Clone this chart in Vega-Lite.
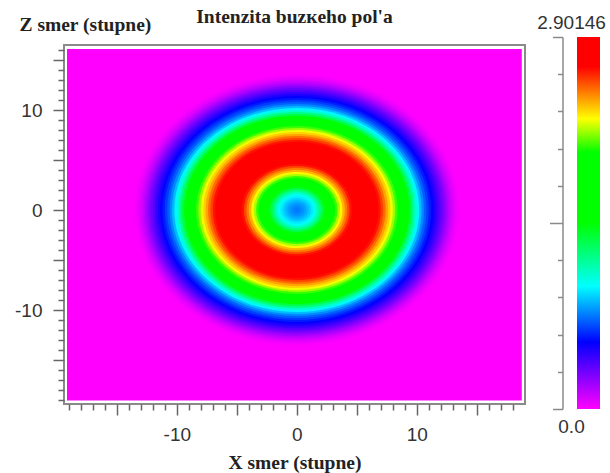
{
  "$schema": "https://vega.github.io/schema/vega-lite/v6.json",
  "width": 461,
  "height": 359,
  "autosize": {"type": "none"},
  "padding": {"left": 64, "top": 45, "right": 85, "bottom": 69},
  "background": "white",
  "title": {"text": "Intenzita buzкeho pol'a", "frame": "group", "anchor": "middle", "offset": -29, "baseline": "alphabetic", "font": "Liberation Serif", "fontSize": 19.5, "fontWeight": "bold", "color": "#222222"},
  "config": {"view": {"stroke": "#8a8a8a", "strokeWidth": 2}, "axis": {"grid": false}},
  "layer": [
    {
      "data": {"values": [{"x0": -19.15, "x1": 18.75, "z0": -19.05, "z1": 16.1, "v": 0}]},
      "mark": {"type": "rect"},
      "encoding": {
        "x": {"field": "x0", "type": "quantitative", "scale": {"domain": [-19.4, 19.0167], "nice": false, "zero": false},
          "axis": {"orient": "bottom", "values": [-19,-18,-17,-16,-15,-14,-13,-12,-11,-10,-9,-8,-7,-6,-5,-4,-3,-2,-1,0,1,2,3,4,5,6,7,8,9,10,11,12,13,14,15,16,17,18],
            "domain": false, "grid": false, "tickColor": "#666666", "tickWidth": 1.5,
            "tickSize": {"condition": {"test": "datum.value % 5 === 0", "value": 11}, "value": 6},
            "labelExpr": "datum.value % 10 === 0 ? toString(datum.value) : ''",
            "labelFont": "Liberation Sans", "labelFontSize": 19, "labelColor": "#333333", "labelPadding": 10,
            "labelOverlap": false, "labelFlush": false,
            "title": "X smer (stupne)", "titleFont": "Liberation Serif", "titleFontSize": 19.5, "titleFontWeight": "bold", "titleColor": "#222222",
            "titleY": 64, "titleBaseline": "alphabetic"}},
        "x2": {"field": "x1"},
        "y": {"field": "z0", "type": "quantitative", "scale": {"domain": [-19.4, 16.5], "nice": false, "zero": false},
          "axis": {"orient": "left", "values": [-19,-18,-17,-16,-15,-14,-13,-12,-11,-10,-9,-8,-7,-6,-5,-4,-3,-2,-1,0,1,2,3,4,5,6,7,8,9,10,11,12,13,14,15,16],
            "domain": false, "grid": false, "tickColor": "#666666", "tickWidth": 1.5,
            "tickSize": {"condition": {"test": "datum.value % 5 === 0", "value": 11}, "value": 6},
            "labelExpr": "datum.value % 10 === 0 ? toString(datum.value) : ''",
            "labelFont": "Liberation Sans", "labelFontSize": 19, "labelColor": "#333333", "labelPadding": 11,
            "labelOverlap": false, "labelFlush": false,
            "title": "Z smer (stupne)", "titleFont": "Liberation Serif", "titleFontSize": 19.5, "titleFontWeight": "bold", "titleColor": "#222222",
            "titleAngle": 0, "titleAlign": "left", "titleBaseline": "alphabetic", "titleX": -45, "titleY": -14.5}},
        "y2": {"field": "z1"},
        "color": {"field": "v", "type": "quantitative", "legend": null,
          "scale": {"type": "linear", "domain": [0, 0.52226, 0.95748, 1.45073, 2.00201, 2.26314, 2.66934, 2.90146], "range": ["#ff00ff", "#0000ff", "#00ffff", "#00ff00", "#00ff00", "#ffff00", "#ff0000", "#ff0000"], "interpolate": "rgb", "clamp": true}}
      }
    },
    {
      "data": {"values": [
        {"r": 14.0, "v": 0}, {"r": 13.8, "v": 0}, {"r": 13.6, "v": 0.009}, {"r": 13.4, "v": 0.026},
        {"r": 13.2, "v": 0.055}, {"r": 13.0, "v": 0.093}, {"r": 12.8, "v": 0.139}, {"r": 12.6, "v": 0.191},
        {"r": 12.4, "v": 0.247}, {"r": 12.2, "v": 0.302}, {"r": 12.0, "v": 0.357}, {"r": 11.8, "v": 0.412},
        {"r": 11.6, "v": 0.464}, {"r": 11.4, "v": 0.516}, {"r": 11.2, "v": 0.566}, {"r": 11.0, "v": 0.624},
        {"r": 10.8, "v": 0.682}, {"r": 10.6, "v": 0.754}, {"r": 10.4, "v": 0.841}, {"r": 10.2, "v": 0.943},
        {"r": 10.0, "v": 1.059}, {"r": 9.8, "v": 1.190}, {"r": 9.6, "v": 1.320}, {"r": 9.4, "v": 1.451},
        {"r": 9.2, "v": 1.581}, {"r": 9.0, "v": 1.712}, {"r": 8.8, "v": 1.842}, {"r": 8.6, "v": 1.958},
        {"r": 8.4, "v": 2.060}, {"r": 8.2, "v": 2.162}, {"r": 8.0, "v": 2.249}, {"r": 7.8, "v": 2.336},
        {"r": 7.6, "v": 2.408}, {"r": 7.4, "v": 2.495}, {"r": 7.2, "v": 2.568}, {"r": 7.0, "v": 2.640},
        {"r": 6.8, "v": 2.698}, {"r": 6.6, "v": 2.771}, {"r": 6.4, "v": 2.829}, {"r": 6.2, "v": 2.872},
        {"r": 6.0, "v": 2.896}, {"r": 5.8, "v": 2.901}, {"r": 5.6, "v": 2.887}, {"r": 5.4, "v": 2.858},
        {"r": 5.2, "v": 2.814}, {"r": 5.0, "v": 2.771}, {"r": 4.8, "v": 2.713}, {"r": 4.6, "v": 2.640},
        {"r": 4.4, "v": 2.553}, {"r": 4.2, "v": 2.466}, {"r": 4.0, "v": 2.379}, {"r": 3.8, "v": 2.278},
        {"r": 3.6, "v": 2.176}, {"r": 3.4, "v": 2.060}, {"r": 3.2, "v": 1.944}, {"r": 3.0, "v": 1.799},
        {"r": 2.8, "v": 1.654}, {"r": 2.6, "v": 1.538}, {"r": 2.4, "v": 1.422}, {"r": 2.2, "v": 1.306},
        {"r": 2.0, "v": 1.190}, {"r": 1.8, "v": 1.074}, {"r": 1.6, "v": 0.986}, {"r": 1.4, "v": 0.928},
        {"r": 1.2, "v": 0.879}, {"r": 1.0, "v": 0.836}, {"r": 0.8, "v": 0.798}, {"r": 0.6, "v": 0.769},
        {"r": 0.4, "v": 0.746}, {"r": 0.2, "v": 0.731}, {"r": 0.0, "v": 0.725}
      ]},
      "mark": {"type": "point", "shape": "M -1 0 A 1 0.8333 0 1 1 1 0 A 1 0.8333 0 1 1 -1 0 Z", "filled": true, "opacity": 1, "strokeWidth": 0},
      "encoding": {
        "x": {"datum": 0, "type": "quantitative", "scale": {"domain": [-19.4, 19.0167], "nice": false, "zero": false}, "axis": null},
        "y": {"datum": 0, "type": "quantitative", "scale": {"domain": [-19.4, 16.5], "nice": false, "zero": false}, "axis": null},
        "size": {"field": "r", "type": "quantitative", "legend": null, "scale": {"type": "pow", "exponent": 2, "domain": [0, 14], "range": [0, 112896]}},
        "color": {"field": "v", "type": "quantitative", "legend": null,
          "scale": {"type": "linear", "domain": [0, 0.52226, 0.95748, 1.45073, 2.00201, 2.26314, 2.66934, 2.90146], "range": ["#ff00ff", "#0000ff", "#00ffff", "#00ff00", "#00ff00", "#ffff00", "#ff0000", "#ff0000"], "interpolate": "rgb", "clamp": true}}
      }
    },
    {
      "data": {"values": [{"lo": 0, "hi": 2.90146}]},
      "mark": {"type": "rect", "fill": {"gradient": "linear", "x1": 0, "y1": 1, "x2": 0, "y2": 0, "stops": [
        {"offset": 0, "color": "#ff00ff"}, {"offset": 0.18, "color": "#0000ff"}, {"offset": 0.33, "color": "#00ffff"},
        {"offset": 0.5, "color": "#00ff00"}, {"offset": 0.69, "color": "#00ff00"}, {"offset": 0.78, "color": "#ffff00"},
        {"offset": 0.92, "color": "#ff0000"}, {"offset": 1, "color": "#ff0000"}]}},
      "encoding": {
        "x": {"datum": 0, "type": "quantitative", "scale": {"domain": [0, 1], "range": [513, 536], "nice": false, "zero": false}, "axis": null},
        "x2": {"datum": 1},
        "y": {"field": "lo", "type": "quantitative", "scale": {"domain": [0, 2.90146], "range": [364, -8], "nice": false, "zero": false},
          "axis": {"orient": "left", "offset": -498.5, "title": null, "grid": false,
            "values": [0, 0.290146, 0.580292, 0.870438, 1.160584, 1.45073, 1.740876, 2.031022, 2.321168, 2.611314, 2.90146],
            "domain": true, "domainColor": "#8a8a8a", "domainWidth": 1.5, "tickColor": "#8a8a8a", "tickWidth": 1.5,
            "tickSize": {"condition": [{"test": "abs(datum.value - 1.45073) < 0.01", "value": 13}, {"test": "datum.value < 0.01 || datum.value > 2.9", "value": 10}], "value": 5},
            "labelExpr": "datum.value > 2.9 ? '2.90146' : (datum.value < 0.01 ? '0.0' : '')",
            "labelAlign": "center", "labelBaseline": "alphabetic", "labelPadding": -18.5,
            "labelOffset": {"condition": {"test": "datum.value > 2.9", "value": -9}, "value": 23},
            "labelFont": "Liberation Sans", "labelFontSize": 19, "labelColor": "#333333",
            "labelOverlap": false, "labelFlush": false, "labelBound": false}},
        "y2": {"field": "hi"}
      }
    }
  ],
  "resolve": {"scale": {"x": "independent", "y": "independent"}, "axis": {"x": "independent", "y": "independent"}}
}
